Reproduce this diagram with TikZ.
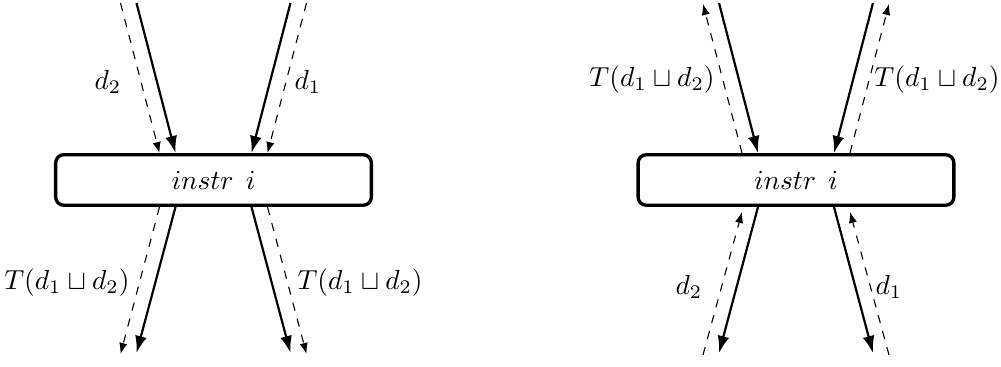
\documentclass[tikz,border=0pt]{standalone}
\usetikzlibrary{arrows.meta,calc}
\begin{document}
\begin{tikzpicture}[x=0.3636pt,y=-0.3636pt,
  box/.style={draw,line width=1.2pt,rounded corners=3pt,minimum width=114.8pt,minimum height=18.4pt,inner sep=0pt},
  flow/.style={line width=0.8pt,-{Latex[length=6.2pt,width=4.3pt]}},
  back/.style={line width=0.4pt,dashed,-{Latex[length=4pt,width=3pt]}},
  lab/.style={inner sep=0pt}]
\useasboundingbox (0,0) rectangle (1001,367);
\node[box] (L) at (213.5,180) {$instr\;\,i$};
\node[box] (R) at (796,180) {$instr\;\,i$};
% free ends, left figure
\coordinate (Lt1) at ($(L)+(-77,-177)$);
\coordinate (Lt2) at ($(L)+(-93,-177)$);
\coordinate (Lt3) at ($(L)+(77,-177)$);
\coordinate (Lt4) at ($(L)+(93,-177)$);
\coordinate (Lb1) at ($(L)+(-77,173)$);
\coordinate (Lb2) at ($(L)+(-93,174)$);
\coordinate (Lb3) at ($(L)+(77,173)$);
\coordinate (Lb4) at ($(L)+(93,174)$);
% free ends, right figure
\coordinate (Rt1) at ($(R)+(-77,-177)$);
\coordinate (Rt2) at ($(R)+(-93,-176)$);
\coordinate (Rt3) at ($(R)+(77,-177)$);
\coordinate (Rt4) at ($(R)+(93,-176)$);
\coordinate (Rb1) at ($(R)+(-77,173)$);
\coordinate (Rb2) at ($(R)+(-93,175)$);
\coordinate (Rb3) at ($(R)+(77,173)$);
\coordinate (Rb4) at ($(R)+(93,175)$);
% left figure connectors
\draw[flow] (Lt1) -- ($(L.north)+(-38,0)$);
\draw[back] (Lt2) -- ($(L.north)+(-54,0)$);
\draw[flow] (Lt3) -- ($(L.north)+(38,0)$);
\draw[back] (Lt4) -- ($(L.north)+(54,0)$);
\draw[flow] ($(L.south)+(-38,0)$) -- (Lb1);
\draw[back] ($(L.south)+(-54,0)$) -- (Lb2);
\draw[flow] ($(L.south)+(38,0)$) -- (Lb3);
\draw[back] ($(L.south)+(54,0)$) -- (Lb4);
% right figure connectors
\draw[flow] (Rt1) -- ($(R.north)+(-38,0)$);
\draw[back] ($(R.north)+(-54,0)$) -- (Rt2);
\draw[flow] (Rt3) -- ($(R.north)+(38,0)$);
\draw[back] ($(R.north)+(54,0)$) -- (Rt4);
\draw[flow] ($(R.south)+(-38,0)$) -- (Rb1);
\draw[back] (Rb2) -- ($(R.south)+(-54,5)$);
\draw[flow] ($(R.south)+(38,0)$) -- (Rb3);
\draw[back] (Rb4) -- ($(R.south)+(54,5)$);
% labels
\node[lab] (ld2) at (108,82) {$d_2$};
\node[lab] (ld1) at (308,82) {$d_1$};
\node[lab,anchor=east] (lT2) at (130,283) {$T(d_1\sqcup d_2)$};
\node[lab,anchor=west] (lT1) at (297,283) {$T(d_1\sqcup d_2)$};
\node[lab] (rT2) at (652,80) {$T(d_1\sqcup d_2)$};
\node[lab] (rT1) at (937,80) {$T(d_1\sqcup d_2)$};
\node[lab] (rd2) at (689,287) {$d_2$};
\node[lab] (rd1) at (889,287) {$d_1$};
\end{tikzpicture}
\end{document}
